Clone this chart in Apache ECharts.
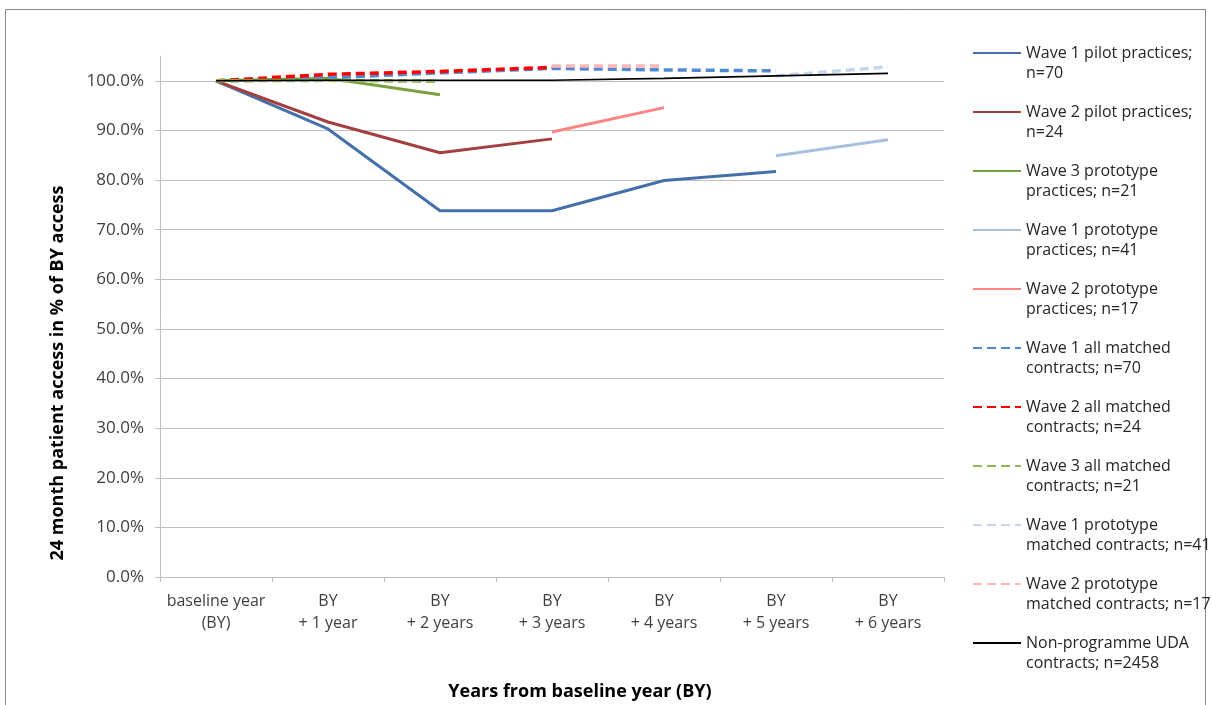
<!DOCTYPE html>
<html>
<head>
<meta charset="utf-8">
<script src="https://cdn.jsdelivr.net/npm/echarts@6/dist/echarts.min.js"></script>
<style>
html,body{margin:0;padding:0;background:#fff;}
#chart{width:1211px;height:705px;}
</style>
</head>
<body>
<div id="chart"></div>
<script>
// Category labels
var categories = ['baseline year\n(BY)', 'BY\n+ 1 year', 'BY\n+ 2 years', 'BY\n+ 3 years', 'BY\n+ 4 years', 'BY\n+ 5 years', 'BY\n+ 6 years'];

// Series values (% of BY access)
var wave1Pilot          = [100, 90.3, 73.8, 73.8, 79.9, 81.7, null];
var wave2Pilot          = [100, 91.7, 85.5, 88.3, null, null, null];
var wave3Prototype      = [100, 100.5, 97.2, null, null, null, null];
var wave1Prototype      = [null, null, null, null, null, 84.9, 88.1];
var wave2Prototype      = [null, null, null, 89.7, 94.6, null, null];
var wave1AllMatched     = [100, 100.6, 101.6, 102.5, 102.2, 102.0, null];
var wave2AllMatched     = [100, 101.3, 101.9, 102.7, null, null, null];
var wave3AllMatched     = [100, 100.1, 99.9, null, null, null, null];
var wave1ProtoMatched   = [null, null, null, null, null, 101.0, 102.8];
var wave2ProtoMatched   = [null, null, null, 103.0, 103.0, null, null];
var nonProgramme        = [100, 100.1, 100.1, 100.1, 100.5, 101.0, 101.5];

// Series names
var names = [
  'Wave 1 pilot practices;\nn=70',
  'Wave 2 pilot practices;\nn=24',
  'Wave 3 prototype\npractices; n=21',
  'Wave 1 prototype\npractices; n=41',
  'Wave 2 prototype\npractices; n=17',
  'Wave 1 all matched\ncontracts; n=70',
  'Wave 2 all matched\ncontracts; n=24',
  'Wave 3 all matched\ncontracts; n=21',
  'Wave 1 prototype\nmatched contracts; n=41',
  'Wave 2 prototype\nmatched contracts; n=17',
  'Non-programme UDA\ncontracts; n=2458'
];

var FONT = '"Open Sans", sans-serif';

function mk(name, data, color, width, dashed) {
  return {
    name: name,
    type: 'line',
    data: data,
    symbol: 'none',
    showSymbol: false,
    connectNulls: false,
    animation: false,
    lineStyle: { color: color, width: width, type: dashed ? [9, 5] : 'solid' },
    itemStyle: { color: color }
  };
}

var chart = echarts.init(document.getElementById('chart'), null, { renderer: 'canvas' });
chart.setOption({
  backgroundColor: '#ffffff',
  animation: false,
  grid: { left: 160, right: 267, top: 56, bottom: 128, containLabel: false },
  xAxis: {
    type: 'category',
    data: categories,
    boundaryGap: true,
    axisLine: { lineStyle: { color: '#BFBFBF', width: 1 } },
    axisTick: { show: true, length: 5, lineStyle: { color: '#BFBFBF' } },
    axisLabel: { color: '#404040', fontFamily: FONT, fontSize: 16, lineHeight: 22, margin: 13, interval: 0 },
    splitLine: { show: false }
  },
  yAxis: {
    type: 'value',
    min: 0,
    max: 105,
    interval: 10,
    axisLine: { show: true, lineStyle: { color: '#BFBFBF', width: 1 } },
    axisTick: { show: true, length: 5, lineStyle: { color: '#BFBFBF' } },
    axisLabel: {
      color: '#404040', fontFamily: FONT, fontSize: 17, margin: 16,
      showMaxLabel: false,
      formatter: function (v) { return v > 100 ? '' : v.toFixed(1) + '%'; }
    },
    splitLine: { show: true, showMaxLine: false, lineStyle: { color: '#BFBFBF', width: 1 } }
  },
  legend: {
    orient: 'vertical',
    left: 972,
    top: 23,
    padding: 0,
    itemWidth: 48,
    itemHeight: 10,
    itemGap: -1,
    itemStyle: { opacity: 0, borderWidth: 0 },
    formatter: function (name) { return '\n' + name; },
    textStyle: { color: '#262626', fontFamily: FONT, fontSize: 16, lineHeight: 20 },
    data: names
  },
  series: [
    mk(names[0], wave1Pilot, '#4470A9', 3, false),
    mk(names[1], wave2Pilot, '#A3403F', 3, false),
    mk(names[2], wave3Prototype, '#79A13F', 3, false),
    mk(names[3], wave1Prototype, '#A8C0E0', 3, false),
    mk(names[4], wave2Prototype, '#FF8585', 3, false),
    mk(names[5], wave1AllMatched, '#5089D2', 3.5, true),
    mk(names[6], wave2AllMatched, '#FF0000', 3.5, true),
    mk(names[7], wave3AllMatched, '#8FB555', 3.5, true),
    mk(names[8], wave1ProtoMatched, '#C6D8F0', 3.5, true),
    mk(names[9], wave2ProtoMatched, '#FFB6B6', 3.5, true),
    mk(names[10], nonProgramme, '#000000', 1.6, false)
  ],
  graphic: [
    {
      type: 'rect', silent: true, z: -1,
      shape: { x: 5.5, y: 9.5, width: 1200, height: 720 },
      style: { fill: 'none', stroke: '#888888', lineWidth: 1 }
    },
    {
      type: 'text', silent: true,
      x: 58, y: 373, rotation: Math.PI / 2,
      style: {
        text: '24 month patient access in % of BY access',
        fill: '#000000', font: 'bold 18px ' + FONT,
        align: 'center', verticalAlign: 'middle'
      }
    },
    {
      type: 'text', silent: true,
      x: 580, y: 692,
      style: {
        text: 'Years from baseline year (BY)',
        fill: '#000000', font: 'bold 18px ' + FONT,
        align: 'center', verticalAlign: 'middle'
      }
    }
  ]
});
</script>
</body>
</html>
